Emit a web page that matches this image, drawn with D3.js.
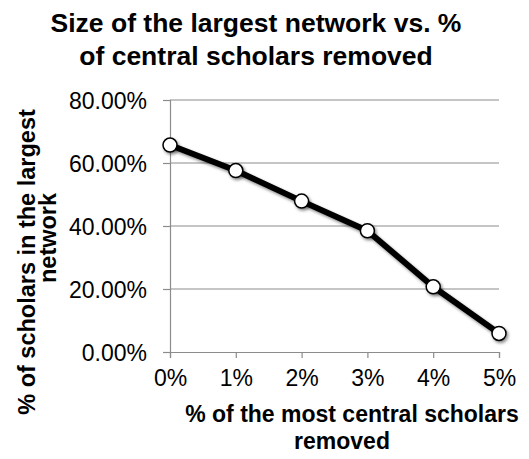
<!DOCTYPE html>
<html><head><meta charset="utf-8">
<script src="https://cdn.jsdelivr.net/npm/d3@7"></script>
<style>
body{margin:0;background:#fff;}
svg{display:block;}
text{font-family:"Liberation Sans",Arial,sans-serif;fill:#000;}
</style></head>
<body>
<script>
const categories = ["0%","1%","2%","3%","4%","5%"];
const values = [0.657, 0.576, 0.479, 0.385, 0.207, 0.059];
const yTicks = [0, 0.2, 0.4, 0.6, 0.8];
const titleLines = ["Size of the largest network vs. %", "of central scholars removed"];
const xTitleLines = ["% of the most central scholars", "removed"];
const yTitleLines = ["% of scholars in the largest", "network"];

const W = 529, H = 459;
const svg = d3.select("body").append("svg").attr("width", W).attr("height", H);

const defs = svg.append("defs");
const f = defs.append("filter").attr("id","sh").attr("x","-50%").attr("y","-50%").attr("width","200%").attr("height","200%");
f.append("feDropShadow").attr("dx",1.5).attr("dy",2).attr("stdDeviation",1.4).attr("flood-color","#000").attr("flood-opacity",0.45);

const x = d3.scalePoint().domain(categories).range([170, 499]);
const y = d3.scaleLinear().domain([0, 0.8]).range([352, 100]);

// gridlines
svg.append("g").selectAll("line").data(yTicks.filter(d=>d>0)).join("line")
  .attr("x1",170).attr("x2",499).attr("y1",d=>y(d)).attr("y2",d=>y(d))
  .attr("stroke","#8c8c8c").attr("stroke-width",1.2);

// y axis
const yAxis = svg.append("g").attr("transform","translate(170,0)")
  .call(d3.axisLeft(y).tickValues(yTicks).tickSize(7).tickPadding(16).tickFormat(d3.format(".2%")));
yAxis.select(".domain").attr("stroke","#8c8c8c").attr("stroke-width",1.2);
yAxis.selectAll(".tick line").attr("stroke","#8c8c8c").attr("stroke-width",1.2);
yAxis.selectAll("text").attr("font-size",23).attr("dy","0.36em").attr("fill","#000").attr("font-family","Liberation Sans, Arial, sans-serif");

// x axis
const xAxis = svg.append("g").attr("transform","translate(0,352)")
  .call(d3.axisBottom(x).tickSize(6).tickPadding(12));
xAxis.select(".domain").attr("stroke","#8c8c8c").attr("stroke-width",1.2);
xAxis.selectAll(".tick line").attr("stroke","#8c8c8c").attr("stroke-width",1.2);
xAxis.selectAll("text").attr("font-size",23).attr("fill","#000").attr("font-family","Liberation Sans, Arial, sans-serif");

// line
const line = d3.line().x((d,i)=>x(categories[i])).y(d=>y(d));
svg.append("path").datum(values).attr("d",line)
  .attr("fill","none").attr("stroke","#000").attr("stroke-width",6).attr("stroke-linejoin","round")
  .attr("filter","url(#sh)");
svg.append("g").selectAll("circle").data(values).join("circle")
  .attr("cx",(d,i)=>x(categories[i])).attr("cy",d=>y(d)).attr("r",7)
  .attr("fill","#fff").attr("stroke","#000").attr("stroke-width",1.5)
  .attr("filter","url(#sh)");

// title
svg.append("g").selectAll("text").data(titleLines).join("text")
  .attr("x",256).attr("y",(d,i)=>32+i*33).attr("text-anchor","middle")
  .attr("font-size",26.5).attr("font-weight","bold").text(d=>d);

// x title
svg.append("text").attr("x",352).attr("y",422).attr("text-anchor","middle")
  .attr("font-size",23).attr("font-weight","bold").text(xTitleLines[0]);
svg.append("text").attr("x",342).attr("y",449).attr("text-anchor","middle")
  .attr("font-size",23).attr("font-weight","bold").text(xTitleLines[1]);

// y title
svg.append("text").attr("transform","translate(35,262) rotate(-90)").attr("text-anchor","middle")
  .attr("font-size",23.5).attr("font-weight","bold").text(yTitleLines[0]);
svg.append("text").attr("transform","translate(56,238) rotate(-90)").attr("text-anchor","middle")
  .attr("font-size",23.5).attr("font-weight","bold").text(yTitleLines[1]);
</script>
</body></html>
